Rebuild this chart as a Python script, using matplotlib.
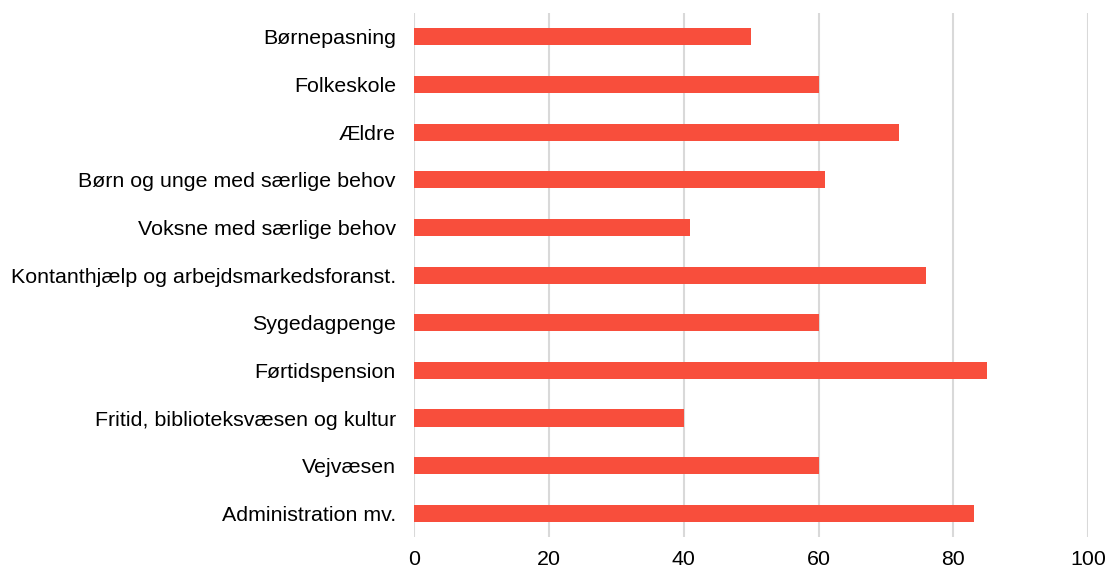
import numpy as np
import matplotlib.pyplot as plt

plt.rcParams['font.family'] = ['Liberation Sans', 'DejaVu Sans']

categories = ['Børnepasning', 'Folkeskole', 'Ældre', 'Børn og unge med særlige behov',
              'Voksne med særlige behov', 'Kontanthjælp og arbejdsmarkedsforanst.',
              'Sygedagpenge', 'Førtidspension', 'Fritid, biblioteksvæsen og kultur',
              'Vejvæsen', 'Administration mv.']
values = [50, 60, 72, 61, 41, 76, 60, 85, 40, 60, 83]
xticks = [0, 20, 40, 60, 80, 100]

fig = plt.figure(figsize=(11.07, 5.69), dpi=100)
ax = fig.add_axes([0.374, 0.056, 0.609, 0.921])

y = np.arange(len(categories))
ax.barh(y, values, height=0.36, color='#F84E3C', zorder=3)

ax.set_yticks(y)
ax.set_yticklabels(categories, fontsize=15.4)
ax.set_ylim(len(categories) - 0.5, -0.5)
ax.set_xlim(0, 100)
ax.set_xticks(xticks)
ax.set_xticklabels([str(t) for t in xticks], fontsize=15.4)
ax.tick_params(length=0, pad=9)
ax.tick_params(axis='y', pad=13)
ax.xaxis.grid(True, color='#D9D9D9', linewidth=1.5, zorder=0)
for s in ax.spines.values():
    s.set_visible(False)

fig.savefig('out.png', dpi=100)
